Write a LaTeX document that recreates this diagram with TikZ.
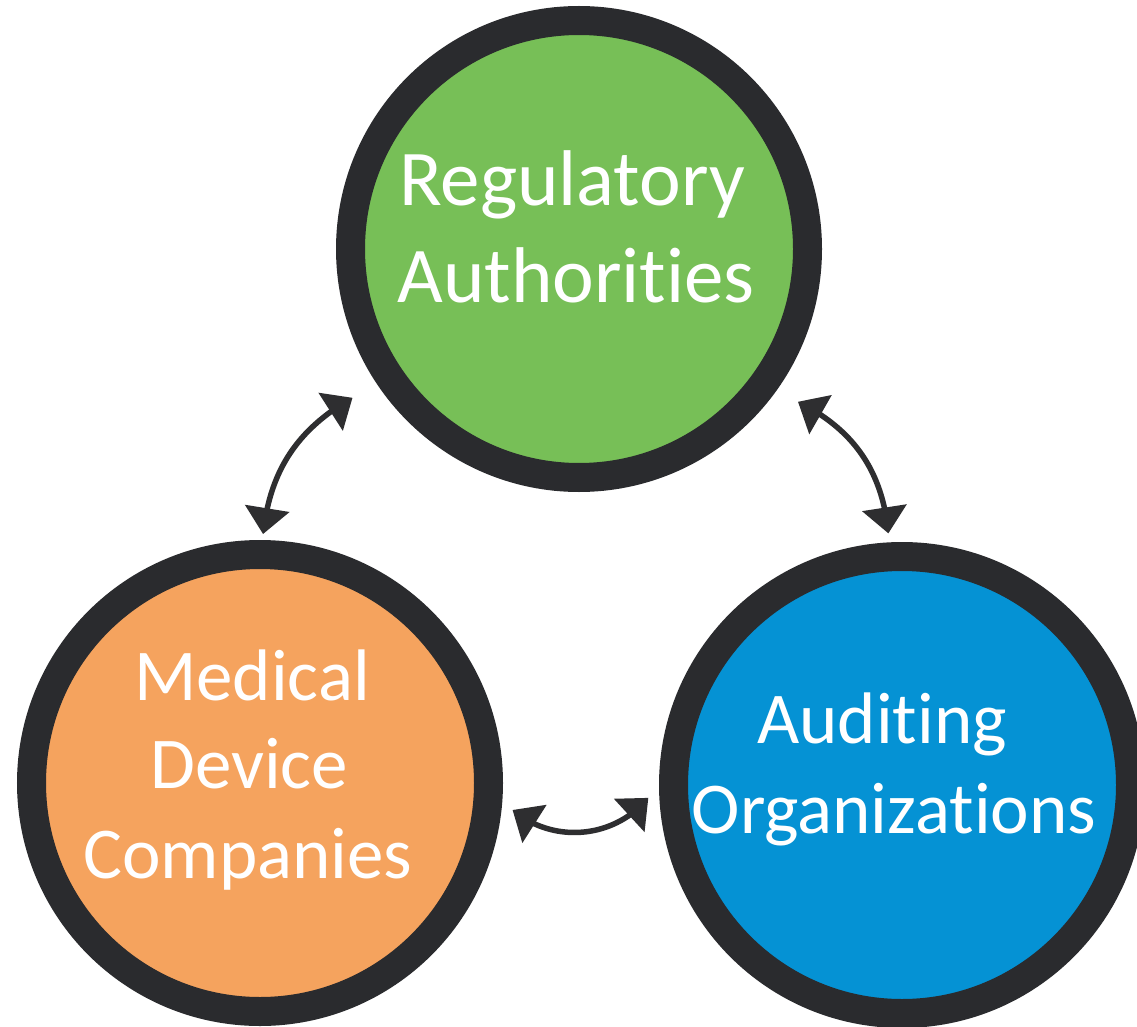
\documentclass[tikz,border=0pt]{standalone}
\usepackage{fontspec}
\setmainfont{Carlito}[Ligatures={NoCommon,NoDiscretionary,NoHistoric}]
\usetikzlibrary{arrows.meta,calc,bending}
\definecolor{ringc}{HTML}{2A2B2E}
\definecolor{greenc}{HTML}{77BF57}
\definecolor{orangec}{HTML}{F5A35E}
\definecolor{bluec}{HTML}{0592D4}
\definecolor{arrc}{HTML}{2E2E30}
\tikzset{
  party/.style={circle, draw=ringc, line width=29pt, inner sep=0pt, minimum size=457pt},
  lbl/.style={text=white, anchor=base, inner sep=0pt},
  big/.style={font=\fontsize{79}{95}\selectfont},
  mid/.style={font=\fontsize{73}{88}\selectfont},
  link/.style={draw=arrc, line width=5.5pt, {Triangle[length=26pt,width=44pt,flex]}-{Triangle[length=26pt,width=44pt,flex]}}
}
\begin{document}
\begin{tikzpicture}[x=1pt,y=1pt]
\useasboundingbox (0,0) rectangle (1137,-1027);
\fill[white] (0,0) rectangle (1137,-1027);
\node[party, fill=greenc] (G) at (579,-249) {};
\node[party, fill=orangec] (O) at (260,-783) {};
\node[party, fill=bluec] (B) at (902,-785) {};
% labels
\node[lbl,big] (g1) at (572,-205) {Regulatory};
\node[lbl,big] (g2) at (576,-302) {Authorities};
\node[lbl,mid] (o1) at (252,-700) {Medical};
\node[lbl,mid] (o2) at (249,-788) {Device};
\node[lbl,mid] (o3) at (248,-878) {Companies};
\node[lbl,mid] (b1) at (882,-743) {Auditing};
\node[lbl,mid] (b2) at (894,-833) {Organizations};
% connector ends
\coordinate (gl) at ($(G)+(213.3:271pt)$);
\coordinate (og) at ($(O)+(89.3:249pt)$);
\coordinate (gr) at ($(G)+(-34.9:267pt)$);
\coordinate (bg) at ($(B)+(93.1:252pt)$);
\coordinate (ob) at ($(O)+(-6.1:254pt)$);
\coordinate (bo) at ($(B)+(182.9:254pt)$);
\draw[link] (gl) to[bend right=27] (og);
\draw[link] (gr) to[bend left=29] (bg);
\draw[link] (ob) to[bend right=45] (bo);
\end{tikzpicture}
\end{document}
